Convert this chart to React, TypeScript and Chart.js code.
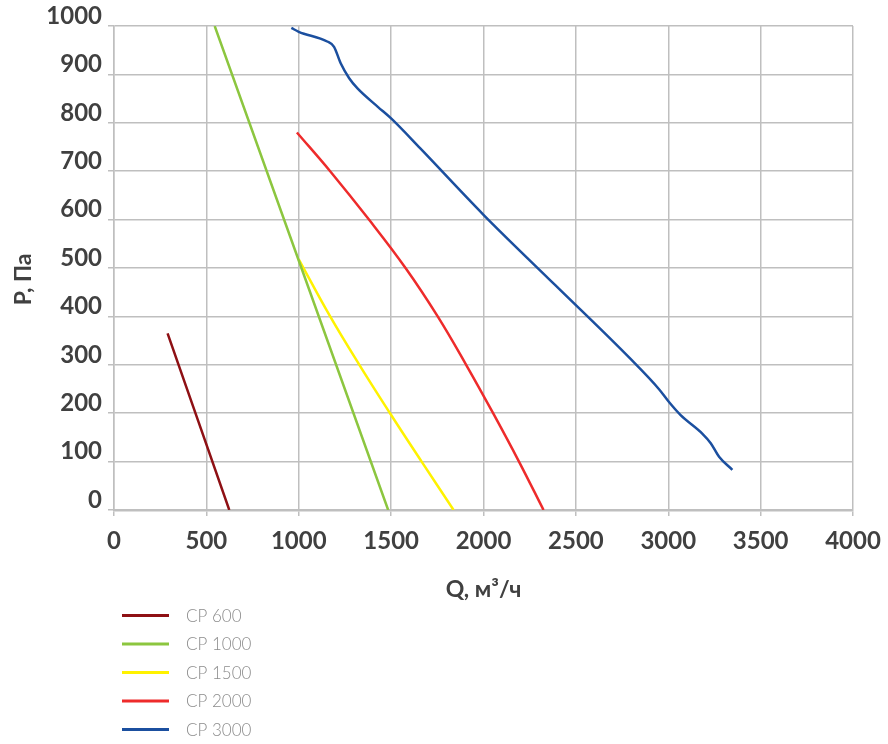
import React, { useEffect, useRef } from 'react';
import { Chart, registerables } from 'chart.js';

Chart.register(...registerables);

const seriesNames = ['CP 600', 'CP 1000', 'CP 1500', 'CP 2000', 'CP 3000'];
const seriesColors = ['#8e1014', '#8cc63f', '#fff200', '#ee2b2b', '#1b4f9f'];

const cp600Q = [290, 624];
const cp600P = [365, 0];
const cp1000Q = [545, 1484];
const cp1000P = [1000, 0];
const cp1500Q = [1000, 1170, 1328, 1494, 1665, 1838];
const cp1500P = [518, 400, 300, 200, 100, 0];
const cp2000Q = [990, 1170, 1380, 1578, 1752, 1906, 2052, 2192, 2325];
const cp2000P = [780, 700, 600, 500, 400, 300, 200, 100, 0];
const cp3000Q = [960, 1000, 1154, 1191, 1227, 1273, 1318, 1428, 1500, 1658, 2000, 2390, 2796, 2949, 3004, 3067, 3184, 3230, 3275, 3347];
const cp3000P = [996, 988, 968, 957, 923, 892, 871, 833, 809, 747, 610, 464, 312, 250, 223, 196, 158, 138, 110, 83];

const seriesQ = [cp600Q, cp1000Q, cp1500Q, cp2000Q, cp3000Q];
const seriesP = [cp600P, cp1000P, cp1500P, cp2000P, cp3000P];

const xTitle = 'Q, м³/ч';
const yTitle = 'P, Па';

const legendPlugin = {
  id: 'stackedLegend',
  afterDraw(chart: any) {
    const ctx = chart.ctx;
    ctx.save();
    chart.data.datasets.forEach((ds: any, i: number) => {
      const y = 615.5 + i * 28.5;
      ctx.strokeStyle = ds.borderColor;
      ctx.lineWidth = 3;
      ctx.beginPath();
      ctx.moveTo(122, y);
      ctx.lineTo(169, y);
      ctx.stroke();
      ctx.fillStyle = '#8c8c8c';
      ctx.font = '300 17px Lato';
      ctx.textBaseline = 'middle';
      ctx.textAlign = 'left';
      ctx.fillText(ds.label, 186, y + 1);
    });
    ctx.restore();
  },
};

export default function App() {
  const ref = useRef<HTMLCanvasElement | null>(null);

  useEffect(() => {
    if (!ref.current) return;
    Chart.defaults.font.family = 'Lato';
    const datasets = seriesNames.map((name, i) => ({
      label: name,
      data: seriesQ[i].map((q, j) => ({ x: q, y: seriesP[i][j] })),
      borderColor: seriesColors[i],
      backgroundColor: seriesColors[i],
      borderWidth: 2.5,
      pointRadius: 0,
      fill: false,
      cubicInterpolationMode: (i === 4 ? 'monotone' : 'default') as any,
      tension: i === 4 ? 0 : 0.4,
    }));
    const chart = new Chart(ref.current, {
      type: 'line',
      data: { datasets },
      plugins: [legendPlugin],
      options: {
        responsive: false,
        animation: false,
        layout: { padding: { left: 0, right: 35, top: 26, bottom: 137 } },
        plugins: {
          legend: { display: false },
          tooltip: { enabled: false },
        },
        scales: {
          x: {
            type: 'linear',
            min: 0,
            max: 4000,
            afterFit: (s: any) => { s.height = 97; s.paddingRight = 0; s.paddingLeft = 0; },
            ticks: {
              stepSize: 500,
              color: '#404040',
              font: { size: 24, weight: 'bold' },
              padding: 11,
              maxRotation: 0,
              callback: (v: any) => String(v),
            },
            grid: { color: '#bfbfbf', lineWidth: 1.5, tickLength: 6 },
            border: { color: '#bfbfbf', width: 2.5 },
            title: {
              display: true,
              text: xTitle,
              color: '#404040',
              font: { size: 23, weight: 'bold' },
              padding: { top: 4, bottom: 4 },
            },
          },
          y: {
            type: 'linear',
            min: 0,
            max: 1000,
            afterFit: (s: any) => { s.width = 114; },
            ticks: {
              stepSize: 100,
              color: '#404040',
              font: { size: 24, weight: 'bold' },
              padding: 6,
              labelOffset: -10,
              callback: (v: any) => String(v),
            },
            grid: { color: '#bfbfbf', lineWidth: 1.5, tickLength: 6 },
            border: { color: '#bfbfbf', width: 1.5 },
            title: {
              display: true,
              text: yTitle + '\u2003 ',
              color: '#404040',
              font: { size: 23, weight: 'bold' },
              padding: { top: 10, bottom: 4 },
            },
          },
        },
      },
    });
    return () => chart.destroy();
  }, []);

  return (
    <div style={{ position: 'absolute', left: 0, top: 0, width: 888, height: 744, background: '#fff' }}>
      <canvas ref={ref} width={888} height={744} />
    </div>
  );
}
